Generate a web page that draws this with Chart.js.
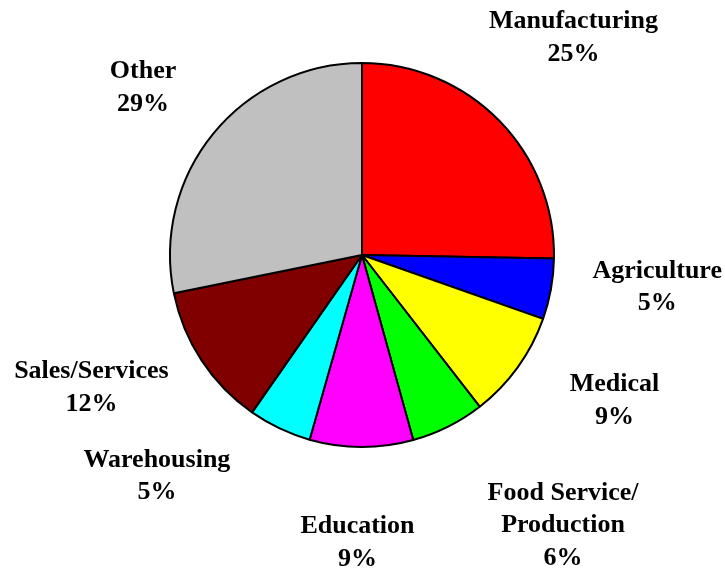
<!DOCTYPE html>
<html>
<head>
<meta charset="utf-8">
<title>Pie chart</title>
<script src="https://cdn.jsdelivr.net/npm/chart.js@4.4.0/dist/chart.umd.min.js"></script>
<style>
    html, body {
        margin: 0;
        padding: 0;
        background: #ffffff;
    }
    #wrap {
        width: 725px;
        height: 571px;
        position: relative;
    }
</style>
</head>
<body>
<div id="wrap"><canvas id="pieChart"></canvas></div>
<script>
const categories = ['Manufacturing', 'Agriculture', 'Medical', 'Food Service/|Production', 'Education', 'Warehousing', 'Sales/Services', 'Other'];
const shares = [25.3, 5.1, 9.1, 6.2, 8.7, 5.3, 12.1, 28.2];
const pctLabels = ['25%', '5%', '9%', '6%', '9%', '5%', '12%', '29%'];
const sliceColors = ['#FF0000', '#0000FF', '#FFFF00', '#00FF00', '#FF00FF', '#00FFFF', '#800000', '#C0C0C0'];

// Draw labels outside each slice
const outsideLabels = {
    id: 'outsideLabels',
    afterDraw(chart, args, opts) {
        const ctx = chart.ctx;
        const arcs = chart.getDatasetMeta(0).data;
        ctx.save();
        ctx.font = 'bold 26px "Liberation Serif", "Times New Roman", serif';
        ctx.fillStyle = '#000000';
        ctx.textAlign = 'center';
        ctx.textBaseline = 'alphabetic';
        const lineHeight = 32.5;

        arcs.forEach((arc, i) => {
            const p = arc.getProps(['x', 'y', 'startAngle', 'endAngle', 'outerRadius'], true);
            // nudge labels the way they were placed by hand in the original
            const mid = (p.startAngle + p.endAngle) / 2 + opts.angleShift[i] * Math.PI / 180;
            const dist = p.outerRadius * opts.radius[i];
            const cx = p.x + Math.cos(mid) * dist;
            const cy = p.y + Math.sin(mid) * dist;
            const lines = categories[i].split('|').concat([pctLabels[i]]);
            const first = cy - (lines.length - 1) * lineHeight / 2;
            lines.forEach((line, j) => {
                ctx.fillText(line, cx, first + j * lineHeight);
            });
        });
        ctx.restore();
    }
};

const pieCtx = document.getElementById('pieChart');
new Chart(pieCtx, {
    type: 'pie',
    data: {
        labels: categories.map(c => c.replace('|', '')),
        datasets: [{
            data: shares,
            backgroundColor: sliceColors,
            borderColor: '#000000',
            borderWidth: 2,
            hoverOffset: 0
        }]
    },
    options: {
        responsive: true,
        maintainAspectRatio: false,
        animation: false,
        layout: {
            padding: { left: 169, right: 170, top: 62, bottom: 123 }
        },
        plugins: {
            legend: { display: false },
            tooltip: { enabled: false },
            outsideLabels: {
                angleShift: [-0.4, -2.7, -4.7, -9.3, 0.7, 16.6, 6.0, -3.0],
                radius: [1.554, 1.551, 1.536, 1.784, 1.534, 1.597, 1.586, 1.414]
            }
        }
    },
    plugins: [outsideLabels]
});
</script>
</body>
</html>
